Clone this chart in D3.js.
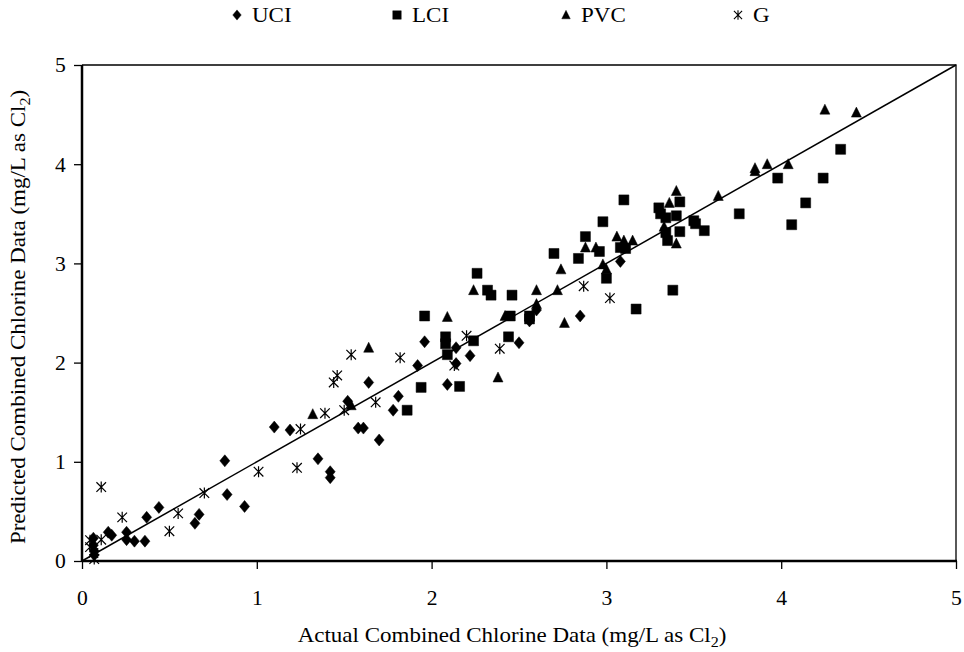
<!DOCTYPE html>
<html>
<head>
<meta charset="utf-8">
<script src="https://cdn.jsdelivr.net/npm/d3@7"></script>
<style>
  body { margin: 0; background: #fff; }
  text { font-family: "Liberation Serif", "Times New Roman", serif; fill: #000; }
</style>
</head>
<body>
<svg id="chart" width="964" height="652"></svg>
<script>
// series data: [actual, predicted]
const uci = [
  [0.065,0.23],[0.065,0.16],[0.07,0.10],[0.07,0.06],[0.15,0.29],[0.17,0.26],[0.255,0.29],[0.255,0.215],
  [0.30,0.20],[0.36,0.20],[0.37,0.44],[0.44,0.54],[0.646,0.38],[0.67,0.47],[0.817,1.01],[0.83,0.67],
  [0.93,0.55],[1.10,1.35],[1.19,1.32],[1.35,1.03],[1.42,0.90],[1.42,0.84],[1.52,1.61],[1.58,1.34],
  [1.61,1.34],[1.70,1.22],[1.64,1.80],[1.78,1.52],[1.81,1.66],[1.92,1.97],[1.96,2.21],[2.09,1.78],
  [2.14,2.15],[2.22,2.07],[2.14,1.99],[2.50,2.20],[2.56,2.42],[2.60,2.53],[2.85,2.47],[3.08,3.02]
];
const lci = [
  [1.86,1.52],[1.94,1.75],[1.96,2.47],[2.08,2.26],[2.08,2.19],[2.09,2.08],[2.16,1.76],[2.24,2.22],
  [2.26,2.90],[2.32,2.73],[2.34,2.68],[2.46,2.68],[2.45,2.47],[2.44,2.26],[2.56,2.47],[2.56,2.44],
  [2.70,3.10],[2.84,3.05],[2.88,3.27],[2.98,3.42],[3.00,2.85],[2.96,3.12],[3.08,3.16],[3.11,3.15],
  [3.10,3.64],[3.17,2.54],[3.30,3.56],[3.31,3.50],[3.34,3.46],[3.40,3.48],[3.42,3.62],[3.34,3.31],
  [3.35,3.23],[3.42,3.32],[3.38,2.73],[3.50,3.43],[3.51,3.40],[3.56,3.33],[3.76,3.50],[3.98,3.86],
  [4.14,3.61],[4.06,3.39],[4.34,4.15],[4.24,3.86]
];
const pvc = [
  [1.32,1.48],[1.54,1.57],[1.64,2.15],[2.09,2.46],[2.24,2.73],[2.38,1.85],[2.42,2.47],[2.60,2.73],
  [2.60,2.59],[2.72,2.73],[2.74,2.94],[2.76,2.40],[2.88,3.16],[2.94,3.16],[2.98,2.99],[3.00,2.94],
  [3.06,3.27],[3.10,3.23],[3.15,3.23],[3.36,3.61],[3.40,3.73],[3.33,3.37],[3.40,3.20],[3.64,3.68],
  [3.85,3.96],[3.85,3.93],[3.92,4.00],[4.04,4.00],[4.25,4.55],[4.43,4.52]
];
const g = [
  [0.046,0.21],[0.046,0.14],[0.065,0.08],[0.07,0.02],[0.11,0.215],[0.11,0.745],[0.23,0.44],[0.50,0.30],
  [0.55,0.48],[0.70,0.685],[1.01,0.90],[1.23,0.94],[1.25,1.33],[1.39,1.49],[1.50,1.52],[1.44,1.80],
  [1.46,1.87],[1.54,2.08],[1.68,1.60],[1.82,2.05],[2.13,1.97],[2.20,2.27],[2.39,2.14],[2.87,2.77],
  [3.02,2.65]
];
const ticks = [0, 1, 2, 3, 4, 5];
const seriesNames = ["UCI", "LCI", "PVC", "G"];
const fitLine = [[0, 0], [5, 5]];

const svg = d3.select("#chart");
const plotLeft = 82, plotRight = 956, plotTop = 65, plotBottom = 561;
const stretch = 1.15;   // the original type is set a bit wide

const x = d3.scaleLinear().domain([0, 5]).range([plotLeft, plotRight]);
const y = d3.scaleLinear().domain([0, 5]).range([plotBottom, plotTop]);

// marker shapes
const shapes = {
  UCI: "M0,-6L5,0L0,6L-5,0Z",
  LCI: "M-5,-5H5V5H-5Z",
  PVC: "M0,-5.5L5,4.5H-5Z",
  G: "M0,-5.5V5.5M-4.8,-4.8L4.8,4.8M4.8,-4.8L-4.8,4.8"
};

// frame (top & right thin)
svg.append("path")
  .attr("d", `M${plotLeft},${plotTop}H${plotRight}V${plotBottom}`)
  .attr("fill", "none").attr("stroke", "#000").attr("stroke-width", 1.3);

// axes
const xAxis = svg.append("g")
  .attr("transform", `translate(0,${plotBottom})`)
  .call(d3.axisBottom(x).tickValues(ticks).tickSize(8).tickPadding(22).tickFormat(d3.format("d")));
const yAxis = svg.append("g")
  .attr("transform", `translate(${plotLeft},0)`)
  .call(d3.axisLeft(y).tickValues(ticks).tickSize(8).tickPadding(7).tickFormat(d3.format("d")));

[xAxis, yAxis].forEach(a => {
  a.select(".domain").remove();
  a.selectAll(".tick line").attr("stroke-width", 1.3);
  a.selectAll(".tick text")
    .style("font-size", "20px")
    .attr("font-family", null)
    .attr("transform", "scale(1.08,1)");
});
yAxis.selectAll(".tick text").attr("dy", "0.34em");
svg.append("line").attr("x1", plotLeft).attr("x2", plotRight + 1).attr("y1", plotBottom).attr("y2", plotBottom)
  .attr("stroke", "#000").attr("stroke-width", 2.5);
svg.append("line").attr("x1", plotLeft).attr("x2", plotLeft).attr("y1", plotTop).attr("y2", plotBottom + 1)
  .attr("stroke", "#000").attr("stroke-width", 2.5);

// 1:1 line
svg.append("path")
  .datum(fitLine)
  .attr("d", d3.line().x(d => x(d[0])).y(d => y(d[1])))
  .attr("fill", "none").attr("stroke", "#000").attr("stroke-width", 1.5);

// points
const allSeries = [uci, lci, pvc, g];
allSeries.forEach((data, i) => {
  const name = seriesNames[i];
  svg.append("g").selectAll("path")
    .data(data)
    .join("path")
    .attr("transform", d => `translate(${x(d[0])},${y(d[1])})`)
    .attr("d", shapes[name])
    .attr("fill", name === "G" ? "none" : "#000")
    .attr("stroke", "#000")
    .attr("stroke-width", name === "G" ? 1.2 : 0.5);
});

// legend
const legendX = [237, 397, 566, 738];
const legend = svg.append("g");
seriesNames.forEach((name, i) => {
  legend.append("path")
    .attr("transform", `translate(${legendX[i]},15) scale(0.85)`)
    .attr("d", shapes[name])
    .attr("fill", name === "G" ? "none" : "#000")
    .attr("stroke", "#000")
    .attr("stroke-width", name === "G" ? 1.3 : 0.5);
  legend.append("text")
    .attr("transform", `translate(${legendX[i] + 15},22) scale(${stretch},1)`)
    .style("font-size", "20px")
    .text(name);
});

// axis titles
const xt = svg.append("text")
  .attr("transform", `translate(512,642) scale(${stretch},1)`)
  .attr("text-anchor", "middle")
  .style("font-size", "20px");
xt.append("tspan").text("Actual Combined Chlorine Data (mg/L as Cl");
xt.append("tspan").attr("dy", 5).style("font-size", "14px").text("2");
xt.append("tspan").attr("dy", -5).text(")");

const yt = svg.append("text")
  .attr("transform", `translate(25,317) rotate(-90) scale(${stretch},1)`)
  .attr("text-anchor", "middle")
  .style("font-size", "20px");
yt.append("tspan").text("Predicted Combined Chlorine Data (mg/L as Cl");
yt.append("tspan").attr("dy", 5).style("font-size", "14px").text("2");
yt.append("tspan").attr("dy", -5).text(")");
</script>
</body>
</html>
